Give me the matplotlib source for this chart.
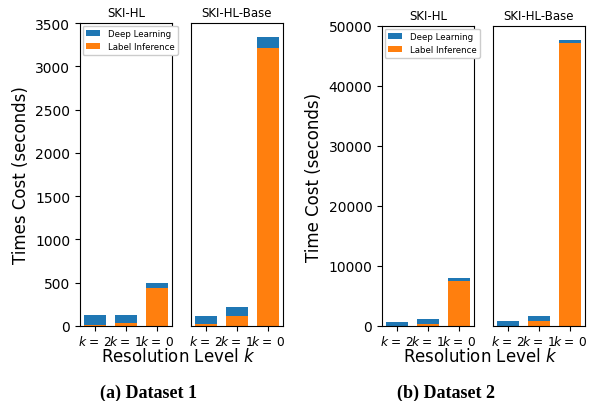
import matplotlib
matplotlib.use("Agg")
import matplotlib.pyplot as plt
import numpy as np

levels = ["$k$ = 2", "$k$ = 1", "$k$ = 0"]
methods = ["SKI-HL", "SKI-HL-Base"]

# Dataset 1 (seconds)
d1_label_inf = {"SKI-HL": [8, 35, 435], "SKI-HL-Base": [18, 120, 3210]}
d1_deep = {"SKI-HL": [116, 89, 58], "SKI-HL-Base": [95, 105, 127]}
# Dataset 2 (seconds)
d2_label_inf = {"SKI-HL": [30, 280, 7500], "SKI-HL-Base": [20, 880, 47250]}
d2_deep = {"SKI-HL": [590, 820, 450], "SKI-HL-Base": [860, 720, 380]}

blue = "#1f77b4"
orange = "#ff7f0e"

W, H = 590, 402
fig = plt.figure(figsize=(W / 100, H / 100), dpi=100)


def ax_rect(x0, x1, ytop, ybot):
    return [x0 / W, (H - ybot) / H, (x1 - x0) / W, (ybot - ytop) / H]


def draw_group(rects, deep, linf, ymax, yticks, ylabel, xlabel_x, caption, caption_x):
    axes = []
    for i, (m, r) in enumerate(zip(methods, rects)):
        ax = fig.add_axes(r)
        x = np.arange(len(levels))
        ax.bar(x, linf[m], width=0.7, color=orange, label="Label Inference")
        ax.bar(x, deep[m], width=0.7, bottom=linf[m], color=blue, label="Deep Learning")
        ax.set_ylim(0, ymax)
        ax.set_xticks(x)
        ax.set_xticklabels(levels, fontsize=8.8)
        ax.set_title(m, fontsize=8.5, pad=5)
        for s in ax.spines.values():
            s.set_linewidth(0.8)
        if i == 0:
            ax.set_yticks(yticks)
            ax.tick_params(axis="y", labelsize=10)
            ax.set_ylabel(ylabel, fontsize=12)
            h, l = ax.get_legend_handles_labels()
            ax.legend(h[::-1], l[::-1], loc="upper left", fontsize=6.2,
                      handlelength=1.6, handletextpad=0.9, borderaxespad=0.3,
                      framealpha=1)
        else:
            ax.set_yticks([])
        ax.tick_params(axis="x", pad=2)
        axes.append(ax)
    fig.text(xlabel_x / W, 1 - 357 / H, "Resolution Level $k$", fontsize=12,
             ha="center", va="center")
    fig.text(caption_x / W, 1 - 393 / H, caption, fontsize=13, fontweight="bold",
             family="Liberation Serif", ha="center", va="center")
    return axes


axs1 = draw_group([ax_rect(80, 172, 24, 327), ax_rect(191, 283, 24, 327)],
                  d1_deep, d1_label_inf, 3500, np.arange(0, 3501, 500),
                  "Times Cost (seconds)", 178, "(a) Dataset 1", 148)
axs2 = draw_group([ax_rect(382, 474, 27, 327), ax_rect(493, 585, 27, 327)],
                  d2_deep, d2_label_inf, 50000, np.arange(0, 50001, 10000),
                  "Time Cost (seconds)", 480, "(b) Dataset 2", 446)

fig.savefig("out.png", dpi=100)
